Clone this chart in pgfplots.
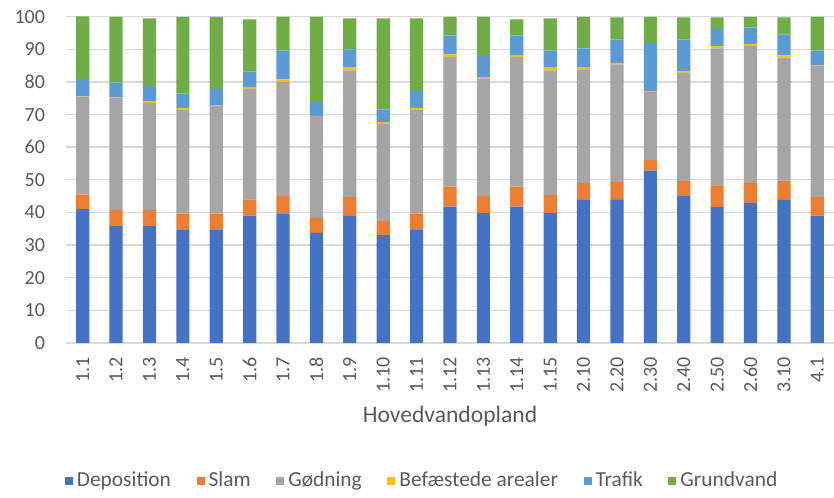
\documentclass[border=0pt]{standalone}
\usepackage{fontspec}
\setmainfont{Carlito}
\usepackage{pgfplots}
\usepackage{pgfplotstable}
\pgfplotsset{compat=1.18}
\definecolor{cdep}{HTML}{4472C4}
\definecolor{cslam}{HTML}{ED7D31}
\definecolor{cgod}{HTML}{A5A5A5}
\definecolor{cbef}{HTML}{FFC000}
\definecolor{ctraf}{HTML}{5B9BD5}
\definecolor{cgrund}{HTML}{70AD47}
\definecolor{ctxt}{HTML}{595959}
\definecolor{cgrid}{HTML}{D9D9D9}
\pgfplotstableread{
x Dep Slam God Bef Traf Grund
0  41.0 4.5 30.0 0.1 5.3 19.2
1  35.8 4.9 34.5 0.1 4.6 20.1
2  35.8 4.9 32.9 0.5 4.6 20.8
3  34.8 4.9 31.9 0.5 4.4 23.5
4  34.8 4.9 32.9 0.3 5.0 22.1
5  39.0 5.0 33.9 0.4 4.9 16.0
6  39.7 5.3 35.1 0.7 8.8 10.4
7  33.7 4.6 31.2 0.1 4.2 26.2
8  39.1 5.6 38.9 0.8 5.6 9.5
9  33.0 4.3 30.0 0.4 3.9 27.9
10 34.8 4.9 31.9 0.5 5.1 22.3
11 41.8 6.1 39.8 0.8 5.8 5.7
12 39.8 5.2 36.1 0.4 6.4 12.1
13 41.8 6.1 39.8 0.4 6.2 4.9
14 39.8 5.5 38.3 0.8 5.2 9.9
15 44.0 5.0 34.9 0.7 5.7 9.7
16 44.0 5.4 36.0 0.5 7.1 6.8
17 52.8 3.2 21.0 0.3 14.7 8.0
18 45.0 4.6 33.2 0.5 9.7 6.8
19 41.7 6.6 42.0 0.7 5.2 3.6
20 42.9 6.1 42.1 0.6 5.0 3.3
21 44.0 5.6 37.9 0.7 6.4 5.2
22 39.0 5.7 40.3 0.1 4.6 10.3
}\datatable
\begin{document}
\begin{tikzpicture}
\begin{axis}[
  scale only axis,
  width=384pt, height=163pt,
  ybar stacked,
  bar width=6.6pt,
  xmin=-0.5, xmax=22.5,
  ymin=0, ymax=100,
  ytick={0,10,...,100},
  xtick=data,
  xticklabels={1.1,1.2,1.3,1.4,1.5,1.6,1.7,1.8,1.9,1.10,1.11,1.12,1.13,1.14,1.15,2.10,2.20,2.30,2.40,2.50,2.60,3.10,4.1},
  axis line style={draw=none},
  major tick style={draw=none},
  ymajorgrids,
  grid style={cgrid, line width=0.7pt},
  tick label style={font=\fontsize{10}{12}\selectfont, text=ctxt},
  /pgf/number format/assume math mode=true,
  xticklabel style={rotate=90, anchor=east},
  xticklabel shift=3.5pt,
  yticklabel shift=7pt,
  xlabel={Hovedvandopland},
  xlabel style={font=\fontsize{11.8}{14}\selectfont, text=ctxt, at={(axis description cs:0.5,0)}, anchor=center, yshift=-36.6pt},
  legend columns=6,
  legend style={draw=none, fill=none, font=\fontsize{10.7}{12}\selectfont, text=ctxt,
    at={(axis description cs:0.463,0)}, anchor=center, yshift=-69pt,
    inner sep=0pt,
    nodes={inner sep=0.5pt},
    /tikz/every odd column/.append style={column sep=1.5pt},
    /tikz/every even column/.append style={column sep=12.3pt}},
  legend image code/.code={\fill[#1] (0pt,-2pt) rectangle (4pt,2pt);},
]
\addplot[fill=cdep, draw=none] table[x=x, y=Dep] {\datatable};
\addplot[fill=cslam, draw=none] table[x=x, y=Slam] {\datatable};
\addplot[fill=cgod, draw=none] table[x=x, y=God] {\datatable};
\addplot[fill=cbef, draw=none] table[x=x, y=Bef] {\datatable};
\addplot[fill=ctraf, draw=none] table[x=x, y=Traf] {\datatable};
\addplot[fill=cgrund, draw=none] table[x=x, y=Grund] {\datatable};
\legend{Deposition, Slam, Gødning, Befæstede arealer, Trafik, Grundvand}
\end{axis}
\path (current axis.south west) ++(-33pt,-77.2pt) coordinate (bbA);
\path (current axis.north east) ++(0pt,8.4pt) coordinate (bbB);
\pgfresetboundingbox
\path (bbA) rectangle (bbB);
\end{tikzpicture}
\end{document}
